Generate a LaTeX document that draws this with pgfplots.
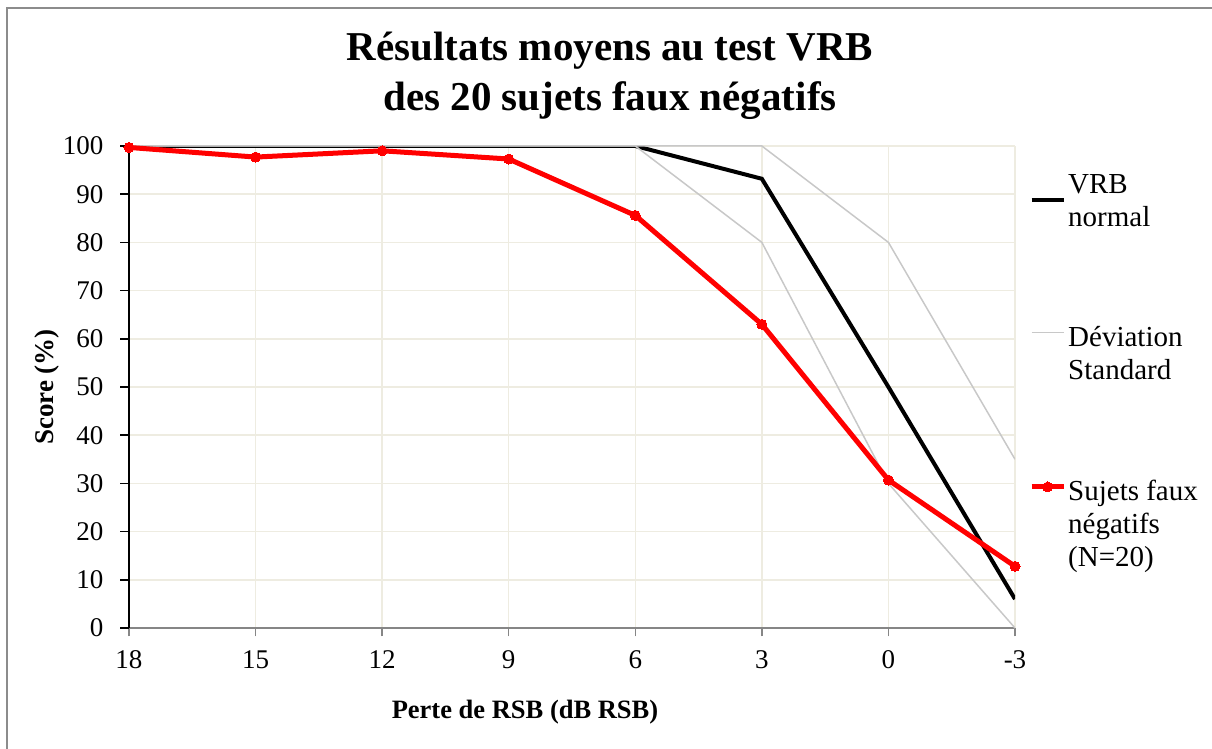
\documentclass[border=0pt]{standalone}
\usepackage{fontspec}
\setmainfont{Liberation Serif}
\usepackage{pgfplots}
\pgfplotsset{compat=1.18}
\definecolor{gridc}{RGB}{238,236,225}
\definecolor{devc}{RGB}{200,200,200}
\definecolor{axgray}{RGB}{134,134,134}
\definecolor{bordc}{RGB}{140,140,140}
\newcommand{\lent}[3]{\raisebox{#1}[#2][0pt]{\begin{tabular}[t]{@{}l@{}}#3\end{tabular}}}
\begin{document}
\begin{tikzpicture}[x=1pt,y=1pt]
\useasboundingbox (-129,-121) rectangle (1083,628);
\draw[bordc, line width=2pt] (-121.5,-140) rectangle (1100,620);
\begin{axis}[
  at={(0,0)}, anchor=south west,
  scale only axis, width=886pt, height=482pt,
  xmin=0, xmax=7, ymin=0, ymax=100,
  xtick={0,...,7}, xticklabels={18,15,12,9,6,3,0,-3},
  ytick={0,10,...,100},
  grid=major, major grid style={gridc, line width=1.5pt},
  axis x line*=bottom, axis y line*=left,
  x axis line style={axgray, line width=2pt, -},
  y axis line style={black, line width=1.5pt, -},
  tick align=outside, major tick length=8.5pt,
  xtick style={axgray, line width=1.5pt},
  ytick style={black, line width=1.5pt},
  /pgf/number format/assume math mode=true,
  ticklabel style={font=\fontsize{27}{32}\selectfont},
  yticklabel style={xshift=-13.5pt},
  xticklabel style={yshift=-11pt},
  legend style={at={(1.0158,0.9004)}, anchor=north west, draw=none, fill=none,
    font=\fontsize{29}{33}\selectfont, row sep=0pt, column sep=0pt, inner sep=0pt,
    cells={anchor=west, inner sep=0pt}},
  legend image code/.code={\draw[mark repeat=2,mark phase=2] plot coordinates {(0pt,0pt)(16pt,0pt)(32pt,0pt)};},
]
\addplot[black, line width=4pt] coordinates {(0,100)(1,100)(2,100)(3,100)(4,100)(5,93.2)(6,50)(7,6)};
\addlegendentry{\lent{8.4pt}{6pt}{VRB\\normal}}
\addplot[devc, line width=1.5pt] coordinates {(0,100)(1,100)(2,100)(3,100)(4,100)(5,100)(6,80)(7,35)};
\addlegendentry{\lent{109.4pt}{248pt}{Déviation\\Standard}}
\addplot[devc, line width=1.5pt, forget plot] coordinates {(0,100)(1,100)(2,100)(3,100)(4,100)(5,80)(6,30)(7,0)};
\addplot[red, line width=5pt, mark=*, mark size=5pt, mark options={fill=red, draw=red, line width=0pt}] coordinates {(0,99.7)(1,97.7)(2,99.0)(3,97.3)(4,85.6)(5,63.0)(6,30.7)(7,12.8)};
\addlegendentry{\lent{10.4pt}{50pt}{Sujets faux\\négatifs\\(N=20)}}
\end{axis}
\node[align=center, font=\fontsize{41}{50}\selectfont\bfseries] at (481,552) {Résultats moyens au test VRB\\des 20 sujets faux négatifs};
\node[font=\fontsize{26.5}{30}\selectfont\bfseries] at (396,-84) {Perte de RSB (dB RSB)};
\node[rotate=90, font=\fontsize{27}{30}\selectfont\bfseries] at (-82,241) {Score (\%)};
\end{tikzpicture}
\end{document}
